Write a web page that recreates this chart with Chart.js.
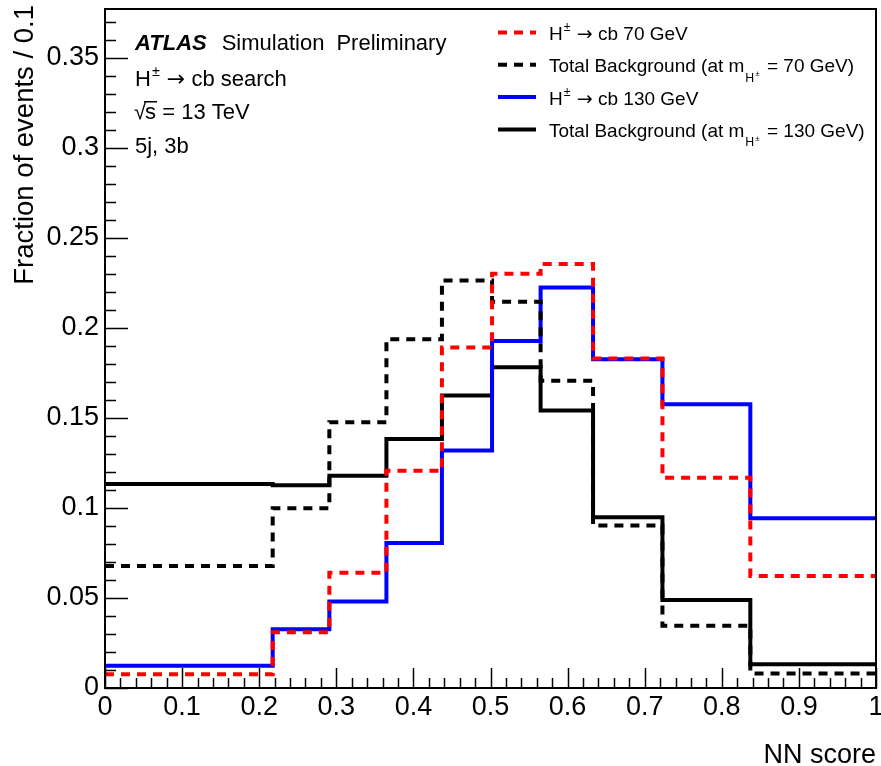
<!DOCTYPE html>
<html>
<head>
<meta charset="utf-8">
<script src="https://cdn.jsdelivr.net/npm/chart.js@4.4.1/dist/chart.umd.min.js"></script>
<style>
  body { margin: 0; background: #fff; }
  #wrap { width: 881px; height: 766px; }
</style>
</head>
<body>
<div id="wrap"><canvas id="hist" width="881" height="766"></canvas></div>
<script>
// bin edges of the NN score histogram
var edges = [0, 0.2175, 0.291, 0.365, 0.437, 0.502, 0.565, 0.633, 0.723, 0.837, 1.0];

// fraction of events per bin
var sig70 = [0.0076, 0.031, 0.064, 0.1206, 0.189, 0.230, 0.2354, 0.183, 0.1168, 0.0622];
var bkg70 = [0.0678, 0.0998, 0.1476, 0.1937, 0.2263, 0.2144, 0.1706, 0.0902, 0.0346, 0.0081];
var sig130 = [0.0124, 0.0326, 0.048, 0.0805, 0.1319, 0.1926, 0.2224, 0.1826, 0.1576, 0.0943];
var bkg130 = [0.1133, 0.1126, 0.1178, 0.1383, 0.1624, 0.1781, 0.1541, 0.0948, 0.0489, 0.0132];

var seriesLabels = [
  'H^{±} → cb 70 GeV',
  'Total Background (at m_{H^{±}} = 70 GeV)',
  'H^{±} → cb 130 GeV',
  'Total Background (at m_{H^{±}} = 130 GeV)'
];

var xTicks = [0, 0.1, 0.2, 0.3, 0.4, 0.5, 0.6, 0.7, 0.8, 0.9, 1];
var xTickLabels = ['0', '0.1', '0.2', '0.3', '0.4', '0.5', '0.6', '0.7', '0.8', '0.9', '1'];
var yTicks = [0, 0.05, 0.1, 0.15, 0.2, 0.25, 0.3, 0.35];
var yTickLabels = ['0', '0.05', '0.1', '0.15', '0.2', '0.25', '0.3', '0.35'];

var FONT = '"Liberation Sans", Arial, "DejaVu Sans", sans-serif';

// turn bin contents into step outline points
function steps(vals) {
  var pts = [];
  for (var i = 0; i < vals.length; i++) {
    pts.push({x: edges[i], y: vals[i]});
    pts.push({x: edges[i + 1], y: vals[i]});
  }
  return pts;
}

// text with ^{..} and _{..}; arrows taken from DejaVu (bigger glyph)
function drawRich(ctx, s, x, y, size, style) {
  var i = 0, buf = '';
  function flush() {
    if (!buf) return;
    ctx.font = (style || '') + ' ' + size + 'px ' + FONT;
    ctx.fillText(buf, x, y);
    x += ctx.measureText(buf).width;
    buf = '';
  }
  while (i < s.length) {
    var c = s[i];
    if ((c === '^' || c === '_') && s[i + 1] === '{') {
      flush();
      var depth = 1, j = i + 2;
      while (depth > 0 && j < s.length) {
        if (s[j] === '{') depth++;
        else if (s[j] === '}') depth--;
        j++;
      }
      var inner = s.slice(i + 2, j - 1);
      var dy = c === '^' ? -size * 0.45 : size * 0.5;
      x = drawRich(ctx, inner, x + 1, y + dy, size * 0.65, style) + 1;
      i = j;
    } else if (c === '→') {
      flush();
      ctx.font = size + 'px "DejaVu Sans", sans-serif';
      ctx.fillText(c, x, y);
      x += ctx.measureText(c).width;
      i++;
    } else {
      buf += c;
      i++;
    }
  }
  flush();
  return x;
}

var frameAndText = {
  id: 'frameAndText',
  afterDatasetsDraw: function(chart) {
    var ctx = chart.ctx, a = chart.chartArea;
    var xs = chart.scales.x, ys = chart.scales.y;
    ctx.save();
    ctx.strokeStyle = '#000';
    ctx.lineWidth = 1.5;
    ctx.beginPath();
    // x ticks, pointing up
    for (var k = 0; k <= 50; k++) {
      var px = Math.round(xs.getPixelForValue(k * 0.02)) + 0.5;
      var len = k % 5 === 0 ? 20 : 10;
      ctx.moveTo(px, a.bottom);
      ctx.lineTo(px, a.bottom - len);
    }
    // y ticks, pointing right
    for (var m = 0; m <= 37; m++) {
      var py = Math.round(ys.getPixelForValue(m * 0.01)) + 0.5;
      var l2 = m % 5 === 0 ? 23 : 11;
      ctx.moveTo(a.left, py);
      ctx.lineTo(a.left + l2, py);
    }
    ctx.stroke();
    ctx.lineWidth = 2;
    ctx.strokeRect(a.left, a.top, a.right - a.left, a.bottom - a.top);
    ctx.restore();
  },
  afterDraw: function(chart) {
    var ctx = chart.ctx, a = chart.chartArea;
    ctx.save();
    ctx.fillStyle = '#000';
    ctx.textBaseline = 'alphabetic';
    ctx.textAlign = 'left';

    // ATLAS label block
    ctx.font = 'italic bold 22px ' + FONT;
    ctx.fillText('ATLAS', 135, 50);
    var x = 135 + ctx.measureText('ATLAS').width + 15;
    ctx.font = '22px ' + FONT;
    ctx.fillText('Simulation', x, 50);
    x += ctx.measureText('Simulation').width + 12;
    ctx.fillText('Preliminary', x, 50);

    drawRich(ctx, 'H^{±} → cb search', 135, 86, 22);

    ctx.font = '22px ' + FONT;
    ctx.fillText('√', 134, 119);
    var sx = 134 + ctx.measureText('√').width - 1;
    ctx.fillText('s', sx, 119);
    var sw = ctx.measureText('s').width;
    ctx.fillRect(sx - 1, 101, sw + 2, 1.5);
    ctx.fillText(' = 13 TeV', sx + sw, 119);

    ctx.fillText('5j, 3b', 135, 153);

    // legend
    chart.data.datasets.forEach(function(ds, i) {
      var ly = 32.5 + i * 32.3;
      ctx.save();
      ctx.strokeStyle = ds.borderColor;
      ctx.lineWidth = ds.borderWidth;
      ctx.setLineDash(ds.borderDash || []);
      ctx.beginPath();
      ctx.moveTo(498, ly);
      ctx.lineTo(536, ly);
      ctx.stroke();
      ctx.restore();
      drawRich(ctx, ds.label, 549, ly + 7.5, 19);
    });

    // axis titles
    ctx.font = '27px ' + FONT;
    ctx.textAlign = 'right';
    ctx.fillText('NN score', a.right, 763);
    ctx.translate(33, 5);
    ctx.rotate(-Math.PI / 2);
    ctx.font = '27.5px ' + FONT;
    ctx.fillText('Fraction of events / 0.1', 0, 0);
    ctx.restore();
  }
};

var tickFont = {family: FONT, size: 27};

new Chart(document.getElementById('hist'), {
  type: 'line',
  data: {
    datasets: [
      {label: seriesLabels[0], data: steps(sig70), borderColor: '#ff0000', borderWidth: 4, borderDash: [9, 7]},
      {label: seriesLabels[1], data: steps(bkg70), borderColor: '#000000', borderWidth: 4, borderDash: [9, 7]},
      {label: seriesLabels[2], data: steps(sig130), borderColor: '#0000ff', borderWidth: 4},
      {label: seriesLabels[3], data: steps(bkg130), borderColor: '#000000', borderWidth: 4}
    ]
  },
  options: {
    responsive: false,
    animation: false,
    devicePixelRatio: 1,
    layout: {padding: {left: 0, right: 5, top: 9, bottom: 0}},
    elements: {
      point: {radius: 0},
      line: {tension: 0, fill: false, borderCapStyle: 'butt', borderJoinStyle: 'miter'}
    },
    plugins: {legend: {display: false}, tooltip: {enabled: false}},
    scales: {
      x: {
        type: 'linear', min: 0, max: 1,
        afterBuildTicks: function(s) { s.ticks = xTicks.map(function(v) { return {value: v}; }); },
        afterFit: function(s) { s.height = 78; s.paddingLeft = 0; s.paddingRight = 0; },
        grid: {display: false, drawTicks: false},
        border: {display: false},
        ticks: {
          callback: function(v, i) { return xTickLabels[i]; },
          font: tickFont, color: '#000', padding: 3, maxRotation: 0, autoSkip: false
        }
      },
      y: {
        type: 'linear', min: 0, max: 0.377,
        afterBuildTicks: function(s) { s.ticks = yTicks.map(function(v) { return {value: v}; }); },
        afterFit: function(s) { s.width = 105; s.paddingTop = 0; s.paddingBottom = 0; },
        grid: {display: false, drawTicks: false},
        border: {display: false},
        ticks: {
          callback: function(v, i) { return yTickLabels[i]; },
          font: tickFont, color: '#000', padding: 6
        }
      }
    }
  },
  plugins: [frameAndText]
});
</script>
</body>
</html>
